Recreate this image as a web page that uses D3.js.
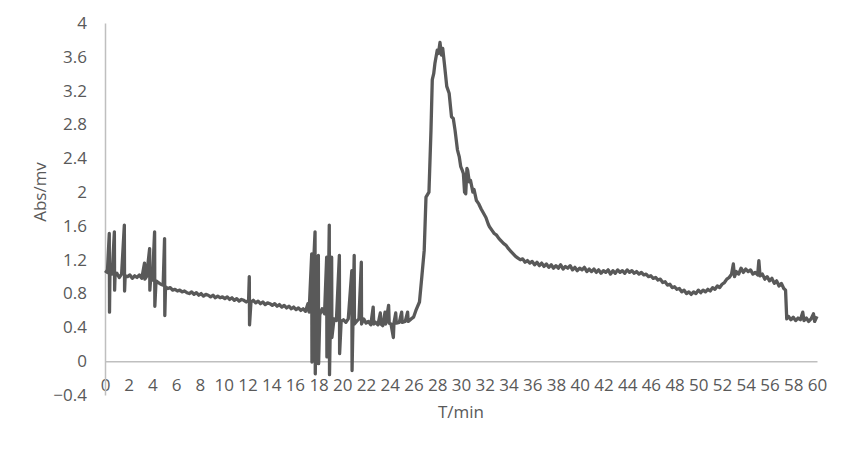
<!DOCTYPE html>
<html>
<head>
<meta charset="utf-8">
<script src="https://cdn.jsdelivr.net/npm/d3@7"></script>
<style>
  body { margin: 0; background: #fff; }
  text { font-family: "Open Sans", sans-serif; fill: #595959; }
</style>
</head>
<body>
<div id="chart"></div>
<script>
// Data
//= ================================
var timeMin = [
  0.0, 0.2, 0.36, 0.38, 0.42, 0.6, 0.79, 0.81, 0.85, 1.0, 1.2, 1.4, 1.63, 1.65, 1.7, 1.9,
  2.1, 2.3, 2.5, 2.7, 2.9, 3.1, 3.33, 3.36, 3.5, 3.76, 3.78, 3.85, 4.0, 4.18, 4.2, 4.3,
  4.5, 4.7, 4.9, 5.02, 5.04, 5.1, 5.3, 5.5, 5.7, 5.9, 6.1, 6.3, 6.5, 6.7, 6.9, 7.1,
  7.3, 7.5, 7.7, 7.9, 8.1, 8.3, 8.5, 8.7, 8.9, 9.1, 9.3, 9.5, 9.7, 9.9, 10.1, 10.3,
  10.5, 10.7, 10.9, 11.1, 11.3, 11.5, 11.7, 11.9, 12.1, 12.16, 12.18, 12.3, 12.5, 12.7, 12.9, 13.1,
  13.3, 13.5, 13.7, 13.9, 14.1, 14.3, 14.5, 14.7, 14.9, 15.1, 15.3, 15.5, 15.7, 15.9, 16.1, 16.3,
  16.5, 16.7, 16.9, 17.1, 17.2, 17.42, 17.44, 17.5, 17.7, 17.72, 17.8, 17.98, 18.0, 18.1, 18.3, 18.5,
  18.68, 18.7, 18.8, 18.9, 18.92, 19.0, 19.1, 19.12, 19.3, 19.5, 19.75, 19.77, 19.9, 20.1, 20.3, 20.5,
  20.8, 20.82, 20.9, 21.0, 21.02, 21.2, 21.4, 21.6, 21.62, 21.8, 22.0, 22.2, 22.4, 22.6, 22.65, 22.8,
  23.0, 23.2, 23.25, 23.4, 23.6, 23.65, 23.9, 23.95, 24.1, 24.3, 24.35, 24.5, 24.55, 24.8, 25.0, 25.05,
  25.3, 25.5, 25.55, 25.8, 26.0, 26.2, 26.5, 26.7, 26.9, 27.05, 27.3, 27.47, 27.58, 27.7, 27.8, 28.0,
  28.1, 28.23, 28.35, 28.46, 28.6, 28.8, 29.0, 29.2, 29.35, 29.5, 29.7, 29.85, 29.98, 30.1, 30.2, 30.3,
  30.4, 30.5, 30.56, 30.7, 30.8, 31.0, 31.1, 31.3, 31.5, 31.7, 31.9, 32.1, 32.3, 32.4, 32.6, 32.8,
  33.0, 33.2, 33.4, 33.6, 33.8, 34.0, 34.2, 34.4, 34.6, 34.8, 35.0, 35.2, 35.4, 35.6, 35.8, 36.0,
  36.2, 36.4, 36.6, 36.8, 37.0, 37.2, 37.4, 37.6, 37.8, 38.0, 38.2, 38.4, 38.6, 38.8, 39.0, 39.2,
  39.4, 39.6, 39.8, 40.0, 40.2, 40.4, 40.6, 40.8, 41.0, 41.2, 41.4, 41.6, 41.8, 42.0, 42.2, 42.4,
  42.6, 42.8, 43.0, 43.2, 43.4, 43.6, 43.8, 44.0, 44.2, 44.4, 44.6, 44.8, 45.0, 45.2, 45.4, 45.6,
  45.8, 46.0, 46.2, 46.4, 46.6, 46.8, 47.0, 47.2, 47.4, 47.6, 47.8, 48.0, 48.2, 48.4, 48.6, 48.8,
  49.0, 49.2, 49.4, 49.6, 49.8, 50.0, 50.2, 50.4, 50.6, 50.8, 51.0, 51.2, 51.4, 51.6, 51.8, 52.0,
  52.2, 52.4, 52.6, 52.8, 52.95, 53.05, 53.2, 53.4, 53.6, 53.8, 54.0, 54.2, 54.4, 54.6, 54.8, 55.0,
  55.1, 55.2, 55.4, 55.6, 55.8, 56.0, 56.2, 56.4, 56.6, 56.8, 57.0, 57.2, 57.35, 57.45, 57.6, 57.8,
  58.0, 58.2, 58.4, 58.6, 58.8, 58.9, 59.1, 59.3, 59.5, 59.7, 59.8, 60.0
];

var absMv = [
  1.07, 1.05, 1.51, 0.58, 1.08, 1.03, 1.53, 0.84, 1.02, 1.04, 0.99, 1.03, 1.61, 0.83, 1.01, 1.0,
  1.02, 0.98, 1.01, 0.99, 1.02, 0.98, 1.16, 0.97, 1.0, 1.33, 0.84, 0.98, 0.96, 1.53, 0.65, 0.95,
  0.93, 0.91, 0.9, 1.45, 0.54, 0.88, 0.86, 0.87, 0.84, 0.85, 0.83, 0.84, 0.82, 0.83, 0.81, 0.8,
  0.82, 0.79, 0.81, 0.78, 0.8, 0.77, 0.79, 0.78, 0.76, 0.78, 0.75, 0.77, 0.75, 0.76, 0.74, 0.76,
  0.73, 0.75, 0.72, 0.74, 0.71, 0.73, 0.72, 0.7, 0.72, 1.0, 0.43, 0.7, 0.72, 0.69, 0.71, 0.68,
  0.7, 0.67, 0.69, 0.68, 0.66, 0.68, 0.65, 0.67, 0.64, 0.66, 0.63, 0.65, 0.62, 0.64, 0.61, 0.63,
  0.6, 0.62, 0.59, 0.68, 0.58, 1.27, -0.01, 0.9, 1.53, -0.15, 0.7, 1.25, -0.03, 0.55, 0.62, 0.56,
  1.23, 0.05, 0.6, 1.61, -0.16, 0.55, 1.23, 0.28, 0.5, 0.48, 1.25, 0.09, 0.47, 0.49, 0.46, 0.5,
  1.07, -0.11, 0.5, 1.25, 0.44, 0.47, 0.5, 1.17, 0.44, 0.5, 0.45, 0.47, 0.43, 0.64, 0.44, 0.46,
  0.43, 0.57, 0.44, 0.42, 0.58, 0.44, 0.66, 0.45, 0.44, 0.28, 0.45, 0.57, 0.45, 0.46, 0.58, 0.46,
  0.47, 0.58, 0.47, 0.5, 0.52, 0.6, 0.7, 1.0, 1.31, 1.94, 2.0, 2.73, 3.33, 3.4, 3.52, 3.68,
  3.64, 3.77, 3.62, 3.7, 3.52, 3.25, 3.17, 2.89, 2.87, 2.73, 2.5, 2.42, 2.3, 2.26, 2.22, 2.0,
  1.98, 2.28, 2.26, 2.12, 2.14, 2.0, 2.03, 1.9, 1.86, 1.8, 1.75, 1.7, 1.62, 1.59, 1.55, 1.51,
  1.49, 1.45, 1.42, 1.39, 1.37, 1.33, 1.3, 1.27, 1.24, 1.22, 1.2, 1.21, 1.17, 1.19, 1.16, 1.18,
  1.14, 1.17, 1.13, 1.16, 1.12, 1.15, 1.11, 1.14, 1.1, 1.13, 1.1, 1.14, 1.09, 1.12, 1.1, 1.13,
  1.08, 1.11, 1.07, 1.1, 1.08, 1.11, 1.06, 1.09, 1.06, 1.09, 1.05, 1.08, 1.04, 1.07, 1.05, 1.08,
  1.03, 1.07, 1.04, 1.08, 1.05, 1.07, 1.04, 1.08, 1.05, 1.07, 1.04, 1.06, 1.03, 1.05, 1.02, 1.03,
  1.0, 1.01, 0.98, 0.99, 0.96, 0.97, 0.93, 0.94, 0.9, 0.91, 0.87, 0.88, 0.85, 0.86, 0.82, 0.84,
  0.8, 0.82, 0.79, 0.82, 0.8, 0.84, 0.81, 0.84, 0.82, 0.85, 0.83, 0.87, 0.85, 0.89, 0.87, 0.91,
  0.93, 0.97, 0.99, 1.03, 1.15, 1.0, 1.06, 1.03, 1.1, 1.05, 1.09, 1.06, 1.08, 1.03, 1.05, 1.02,
  1.19, 1.01, 1.03, 0.97, 1.0, 0.95, 0.98, 0.92, 0.95, 0.89, 0.92, 0.86, 0.84, 0.5, 0.53, 0.49,
  0.52, 0.48, 0.51, 0.49, 0.58, 0.48, 0.51, 0.47, 0.5, 0.56, 0.47, 0.53
];

var xTicks = d3.range(0, 61, 2);
var yTicks = [-0.4, 0, 0.4, 0.8, 1.2, 1.6, 2, 2.4, 2.8, 3.2, 3.6, 4];

// Chart setup
//= ================================
var svgWidth = 850;
var svgHeight = 450;

var margin = { top: 23, right: 33, bottom: 55, left: 105 };
var width = svgWidth - margin.left - margin.right;
var height = svgHeight - margin.top - margin.bottom;

var svg = d3.select("#chart")
  .append("svg")
  .attr("width", svgWidth)
  .attr("height", svgHeight);

var chartGroup = svg.append("g")
  .attr("transform", `translate(${margin.left}, ${margin.top})`);

var xScale = d3.scaleLinear().domain([0, 60]).range([0, width]);
var yScale = d3.scaleLinear().domain([-0.4, 4]).range([height, 0]);

var axisColor = "#bfbfbf";
var fontSize = "17px";

// x axis sits on the zero line (Excel style)
var bottomAxis = d3.axisBottom(xScale)
  .tickValues(xTicks)
  .tickSize(0)
  .tickPadding(18)
  .tickFormat(d3.format("d"));

var xAxisG = chartGroup.append("g")
  .attr("transform", `translate(0, ${yScale(0)})`)
  .call(bottomAxis);

var leftAxis = d3.axisLeft(yScale)
  .tickValues(yTicks)
  .tickSize(0)
  .tickPadding(18)
  .tickFormat(function(d) { return d3.format("")(+d.toFixed(1)); });

var yAxisG = chartGroup.append("g").call(leftAxis);

[xAxisG, yAxisG].forEach(function(g) {
  g.select(".domain").attr("stroke", axisColor).attr("stroke-width", 1.5);
  g.selectAll("text")
    .style("font-family", "'Open Sans', sans-serif")
    .style("font-size", fontSize)
    .attr("fill", "#595959");
});

// the line
var line = d3.line()
  .x(function(d, i) { return xScale(timeMin[i]); })
  .y(function(d) { return yScale(d); });

chartGroup.append("path")
  .datum(absMv)
  .attr("d", line)
  .attr("fill", "none")
  .attr("stroke", "#595959")
  .attr("stroke-width", 3.3)
  .attr("stroke-linejoin", "round");

// axis titles
svg.append("text")
  .attr("transform", "translate(46, 192) rotate(-90)")
  .attr("text-anchor", "middle")
  .style("font-size", fontSize)
  .text("Abs/mv");

svg.append("text")
  .attr("x", margin.left + width / 2)
  .attr("y", 418)
  .attr("text-anchor", "middle")
  .style("font-size", fontSize)
  .text("T/min");
</script>
</body>
</html>
